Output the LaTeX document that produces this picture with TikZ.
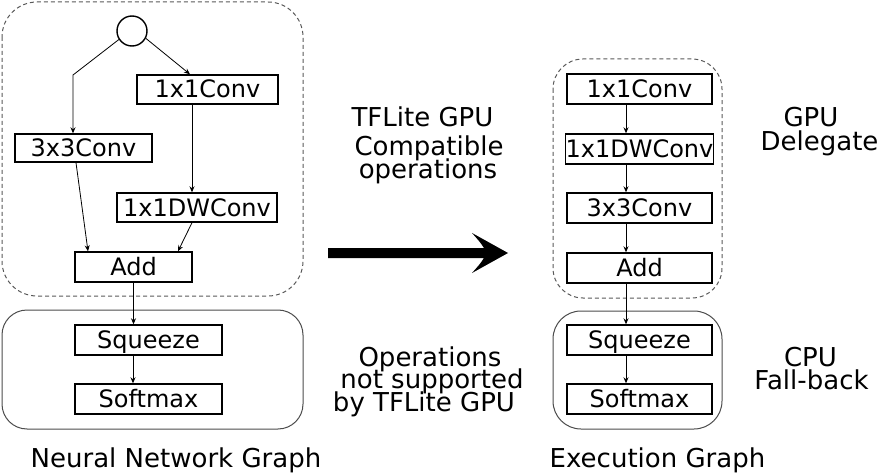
\documentclass[tikz,border=0pt]{standalone}
\usepackage{fontspec}
\setmainfont{DejaVu Sans}
\usetikzlibrary{arrows.meta,calc}
\begin{document}
\begin{tikzpicture}[x=1pt,y=-1pt,
  opbox/.style={draw,line width=1.4pt,rectangle,inner sep=0pt,minimum height=29pt,
    text height=17pt,text depth=0pt,font=\fontsize{24}{25}\selectfont},
  conn/.style={line width=0.8pt,-{Stealth[length=6pt,width=5pt]}},
  lbl/.style={anchor=base,inner sep=0pt,font=\fontsize{26}{28}\selectfont},
  grpdash/.style={draw=black!65,line width=1pt,dash pattern=on 4pt off 3pt},
  grpsolid/.style={draw=black!70,line width=1pt}]
\useasboundingbox (0,0) rectangle (879,476);
% group frames
\draw[grpdash,rounded corners=35pt] (2,2) rectangle (303,296);
\draw[grpsolid,rounded corners=25pt] (2,310) rectangle (303,429);
\draw[grpdash,rounded corners=30pt] (553,59) rectangle (722,298);
\draw[grpsolid,rounded corners=28pt] (553,311) rectangle (722,429);
% left graph
\node[circle,draw,line width=1.4pt,minimum size=30pt,inner sep=0pt] (c) at (132,31) {};
\node[opbox,minimum width=141pt] (b1) at (207.5,89.5) {1x1Conv};
\node[opbox,minimum width=137pt,minimum height=28pt] (a3) at (83.5,148) {3x3Conv};
\node[opbox,minimum width=160pt] (dw) at (197,207.5) {1x1DWConv};
\node[opbox,minimum width=117pt,minimum height=30pt] (add) at (133.5,267) {Add};
\node[opbox,minimum width=147pt,minimum height=30pt] (sq) at (148.5,340) {Squeeze};
\node[opbox,minimum width=147pt,minimum height=30pt] (sm) at (148.5,399) {Softmax};
\coordinate (bend) at (73,75);
\draw[conn] (c.213) -- (bend) -- (bend |- a3.north);
\draw[conn] (c.332) -- ([xshift=-17.5pt]b1.north);
\draw[conn] ([xshift=-15.5pt]b1.south) -- ([xshift=-15.5pt]b1.south |- dw.north);
\draw[conn] ([xshift=-7.5pt]a3.south) -- ([xshift=-45.5pt]add.north);
\draw[conn] ([xshift=-5pt]dw.south) -- ([xshift=44.5pt]add.north);
\draw[conn] (add.south) -- (add.south |- sq.north);
\draw[conn] ([xshift=-15.5pt]sq.south) -- ([xshift=-15.5pt]sm.north);
% right graph
\node[opbox,minimum width=145pt,minimum height=30pt] (r1) at (639.5,89) {1x1Conv};
\node[opbox,minimum width=145pt,minimum height=30pt] (r2) at (639.5,149) {1x1DWConv};
\node[opbox,minimum width=145pt,minimum height=30pt] (r3) at (639.5,208) {3x3Conv};
\node[opbox,minimum width=145pt,minimum height=30pt] (r4) at (639.5,268) {Add};
\node[opbox,minimum width=145pt,minimum height=30pt] (r5) at (639.5,340) {Squeeze};
\node[opbox,minimum width=145pt,minimum height=30pt] (r6) at (639.5,399) {Softmax};
\foreach \u/\v in {r1/r2,r2/r3,r3/r4,r4/r5,r5/r6}
  \draw[conn] ([xshift=-13.5pt]\u.south) -- ([xshift=-13.5pt]\v.north);
% big arrow
\fill (328,248) -- (484,248) .. controls (480,242) .. (472,233) -- (508,253) -- (472,273) .. controls (480,264) .. (484,258) -- (328,258) -- cycle;
% labels
\node[lbl] (t1) at (422.5,127) {TFLite GPU};
\node[lbl] (t2) at (429,156) {Compatible};
\node[lbl] (t3) at (428,179) {operations};
\node[lbl] (o1) at (430,366) {Operations};
\node[lbl] (o2) at (432,388) {not supported};
\node[lbl] (o3) at (424,411) {by TFLite GPU};
\node[lbl] (g1) at (811,127) {GPU};
\node[lbl] (g2) at (819.5,151) {Delegate};
\node[lbl] (p1) at (810.5,366) {CPU};
\node[lbl] (p2) at (811.5,389) {Fall-back};
\node[lbl] (n1) at (176,467) {Neural Network Graph};
\node[lbl] (n2) at (657.5,467) {Execution Graph};
\end{tikzpicture}
\end{document}
